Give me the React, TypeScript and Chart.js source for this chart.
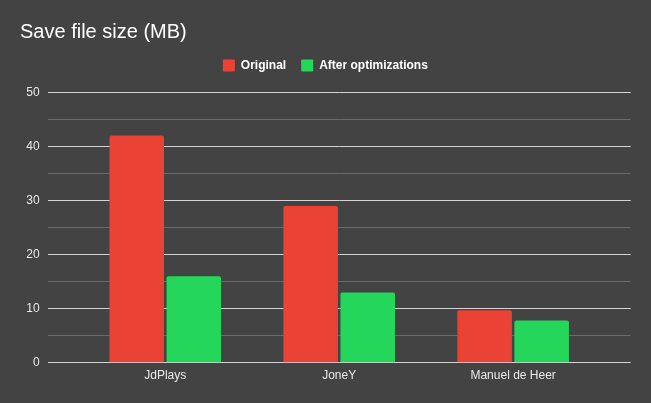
import { useEffect, useRef } from 'react';
import { Chart, registerables } from 'chart.js';

Chart.register(...registerables);

const categories = ['JdPlays', 'JoneY', 'Manuel de Heer'];
const seriesNames = ['Original', 'After optimizations'];
const originalValues = [42, 29, 9.7];
const optimizedValues = [16, 13, 7.8];
const yMin = 0;
const yMax = 50;
const yStep = 5;
const yLabelStep = 10;

const BG = '#434343';
const RED = '#EA4335';
const GREEN = '#24D75A';
const FONT = "'Liberation Sans', Arial, sans-serif";

export default function App() {
  const ref = useRef<HTMLCanvasElement>(null);

  useEffect(() => {
    document.body.style.margin = '0';
    document.body.style.background = BG;
    const canvas = ref.current;
    if (!canvas) return;

    const toPoints = (vals: number[]) => vals.map((v, i) => ({ x: i, y: v }));
    const barOpts = {
      barPercentage: 0.956,
      categoryPercentage: 0.656,
      borderRadius: { topLeft: 2, topRight: 2, bottomLeft: 0, bottomRight: 0 },
      borderSkipped: false as const,
    };

    const chart = new Chart(canvas, {
      type: 'bar',
      data: {
        datasets: [
          { label: seriesNames[0], data: toPoints(originalValues), backgroundColor: RED, ...barOpts },
          { label: seriesNames[1], data: toPoints(optimizedValues), backgroundColor: GREEN, ...barOpts },
        ],
      },
      options: {
        animation: false,
        responsive: false,
        devicePixelRatio: 1,
        layout: { padding: { left: 20, right: 20.3, top: 0, bottom: 13.8 } },
        plugins: {
          title: {
            display: true,
            text: 'Save file size (MB)',
            align: 'start',
            color: '#ffffff',
            font: { family: FONT, size: 20, weight: 'normal' },
            padding: { top: 20.5, bottom: 0 },
          },
          legend: {
            display: true,
            position: 'top',
            align: 'center',
            labels: {
              color: '#ffffff',
              font: { family: FONT, size: 12, weight: 'bold' },
              boxWidth: 12,
              boxHeight: 12,
              padding: 15,
              useBorderRadius: true,
              borderRadius: 1,
            },
          },
          tooltip: { enabled: false },
        },
        scales: {
          x: {
            type: 'linear',
            offset: false,
            min: -0.676,
            max: categories.length - 1 + 0.676,
            afterBuildTicks: (scale: any) => {
              scale.ticks = categories.map((_, i) => ({ value: i }));
            },
            ticks: {
              autoSkip: false,
              maxRotation: 0,
              padding: 6,
              color: '#e8e8e8',
              font: { family: FONT, size: 12 },
              callback: (v: any) => categories[Number(v)] ?? '',
            },
            grid: { display: false, drawTicks: false },
            border: { display: false },
          },
          gap: {
            type: 'linear',
            position: 'top',
            display: true,
            ticks: { display: false },
            grid: { display: false, drawTicks: false },
            border: { display: false },
            afterFit: (scale: any) => {
              scale.height = 10.8;
            },
          },
          y: {
            min: yMin,
            max: yMax,
            afterFit: (scale: any) => {
              scale.width = 27.7;
            },
            ticks: {
              stepSize: yStep,
              padding: 8,
              color: '#e8e8e8',
              font: { family: FONT, size: 12 },
              callback: (v: any) => (Number(v) % yLabelStep === 0 ? String(v) : ''),
            },
            grid: {
              drawTicks: false,
              lineWidth: 1,
              color: (ctx: any) =>
                ctx.tick && ctx.tick.value % yLabelStep === 0 ? '#d4d4d4' : '#6a6a6a',
            },
            border: { display: false },
          },
        },
      } as any,
    });

    return () => chart.destroy();
  }, []);

  return (
    <div style={{ width: 651, height: 403, background: BG, position: 'relative' }}>
      <canvas ref={ref} width={651} height={403} style={{ display: 'block' }} />
    </div>
  );
}
